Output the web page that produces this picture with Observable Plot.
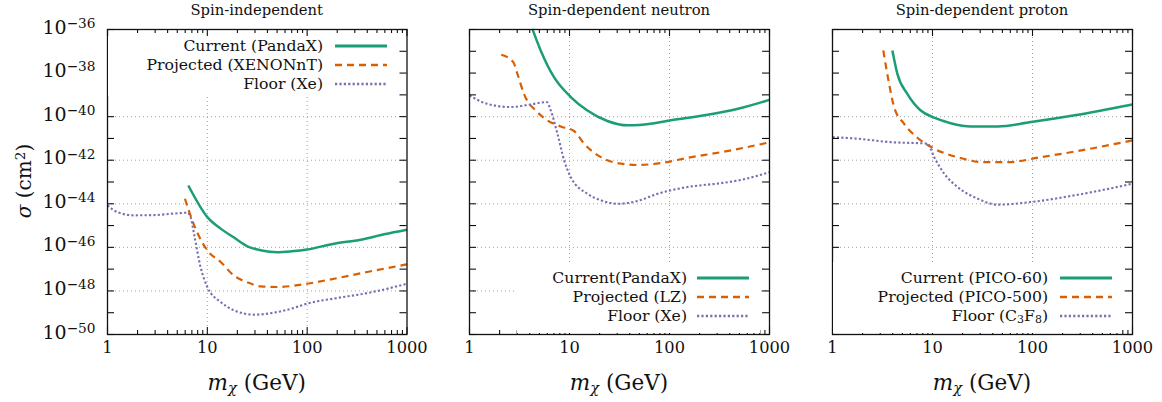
<!DOCTYPE html>
<html><head><meta charset="utf-8">
<script src="https://cdn.jsdelivr.net/npm/d3@7"></script>
<script src="https://cdn.jsdelivr.net/npm/@observablehq/plot@0.6"></script>
<style>
body{margin:0;background:#fff;font-family:"DejaVu Serif",serif;color:#111;}
#wrap{position:relative;width:1162px;height:402px;overflow:hidden;background:#fff;}
.panel{position:absolute;top:0;}
.title{position:absolute;top:10px;font-size:14px;text-align:center;white-space:nowrap;transform:translate(-50%,-50%);line-height:1.2;}
.xlabel{position:absolute;top:383px;font-size:20px;white-space:nowrap;transform:translate(-50%,-50%);line-height:1.2;}
.xlabel sub{font-size:0.68em;vertical-align:-0.22em;line-height:0;}
.ylabel{position:absolute;font-size:20px;white-space:nowrap;line-height:1.2;transform:translate(-50%,-50%) rotate(-90deg);}
.ylabel sup{font-size:0.68em;vertical-align:0.45em;line-height:0;}
.legend{position:absolute;background:#fff;}
.lrow{position:absolute;font-size:15px;white-space:nowrap;line-height:1;transform:translateY(-50%);}
.lrow sub{font-size:0.7em;vertical-align:-0.2em;line-height:0;}
.sw{position:absolute;}
</style>
</head><body><div id="wrap"></div>
<script>
// ---------- data ----------
const massTicks = [1, 10, 100, 1000];
const sigmaLabelExps = [-36, -38, -40, -42, -44, -46, -48, -50];
const sigmaGridExps = [-40, -42, -44, -46, -48];
const massGrid = [10, 100];
const panelTitles = ["Spin-independent", "Spin-dependent neutron", "Spin-dependent proton"];
const seriesNames = ["current", "projected", "floor"];
const legendLabels = [
  ["Current (PandaX)", "Projected (XENONnT)", "Floor (Xe)"],
  ["Current(PandaX)", "Projected (LZ)", "Floor (Xe)"],
  ["Current (PICO-60)", "Projected (PICO-500)", "Floor (C<sub>3</sub>F<sub>8</sub>)"]
];

// Spin-independent (sigma given as log10 exponent)
const siCurrentMass = [6.45, 10, 13.6, 18.5, 25.2, 35, 50, 70, 100, 186, 345, 590, 1000];
const siCurrentExp  = [-43.16, -44.61, -45.14, -45.55, -45.95, -46.14, -46.22, -46.18, -46.1, -45.83, -45.65, -45.4, -45.19];
const siProjMass = [5.97, 7.06, 10, 13.6, 18.5, 25, 34.2, 50, 100, 186, 400, 1000];
const siProjExp  = [-43.77, -44.76, -46.14, -46.67, -47.3, -47.6, -47.79, -47.82, -47.67, -47.44, -47.13, -46.78];
const siFloorMass = [1, 1.25, 1.84, 2.9, 4.6, 6.3, 6.8, 7.35, 8.55, 10, 13.6, 18.5, 29.4, 50, 73.8, 100, 186, 400, 1000];
const siFloorExp  = [-44.07, -44.38, -44.53, -44.52, -44.45, -44.41, -44.61, -45.37, -46.9, -47.82, -48.51, -48.89, -49.09, -48.97, -48.78, -48.58, -48.35, -48.1, -47.67];

// Spin-dependent neutron
const sdnCurrentMass = [4.25, 5.15, 7.0, 10.3, 15.1, 23.9, 38.1, 70.5, 103, 224, 484, 1000];
const sdnCurrentExp  = [-35.97, -36.96, -38.19, -39.1, -39.72, -40.2, -40.4, -40.3, -40.17, -39.94, -39.64, -39.23];
const sdnProjMass = [2.08, 2.74, 3.01, 3.5, 4.77, 6.0, 8.17, 11.1, 14.0, 20.6, 32.6, 48, 82, 152, 330, 1000];
const sdnProjExp  = [-37.16, -37.5, -38.03, -38.95, -39.79, -40.17, -40.45, -40.66, -41.24, -41.86, -42.16, -42.22, -42.13, -41.89, -41.63, -41.18];
const sdnFloorMass = [1.0, 1.5, 2.58, 4.09, 5.93, 6.5, 7.57, 8.84, 10.3, 15.1, 20.6, 30.2, 48, 76, 152, 330, 484, 1000];
const sdnFloorExp  = [-39.03, -39.41, -39.56, -39.44, -39.33, -39.72, -40.78, -42.01, -42.78, -43.54, -43.84, -44.0, -43.87, -43.54, -43.23, -43.05, -42.93, -42.55];

// Spin-dependent proton
const sdpCurrentMass = [3.97, 4.45, 5.6, 7.63, 10.4, 15.2, 24.2, 44.8, 96.5, 265, 1000];
const sdpCurrentExp  = [-36.96, -38.03, -38.95, -39.72, -40.05, -40.3, -40.45, -40.45, -40.25, -39.94, -39.44];
const sdpProjMass = [3.22, 3.68, 4.13, 5.2, 7.07, 10.4, 17.8, 33, 56.5, 121, 307, 1000];
const sdpProjExp  = [-36.96, -38.49, -39.56, -40.33, -40.97, -41.47, -41.86, -42.09, -42.09, -41.86, -41.55, -41.09];
const sdpFloorMass = [1, 1.77, 3.8, 8.9, 10.4, 13.1, 17.8, 28.4, 44.8, 96.5, 265, 1000];
const sdpFloorExp  = [-40.94, -41.01, -41.17, -41.24, -41.86, -42.62, -43.23, -43.77, -44.04, -43.92, -43.61, -43.08];

// ---------- styles ----------
const seriesStyle = {
  current:   {stroke: "#1b9e77", strokeWidth: 2.5, strokeDasharray: null},
  projected: {stroke: "#d95f02", strokeWidth: 2.2, strokeDasharray: "7,5"},
  floor:     {stroke: "#7570b3", strokeWidth: 2.1, strokeDasharray: "2.2,2.2"}
};

const panelData = [
  [[siCurrentMass, siCurrentExp], [siProjMass, siProjExp], [siFloorMass, siFloorExp]],
  [[sdnCurrentMass, sdnCurrentExp], [sdnProjMass, sdnProjExp], [sdnFloorMass, sdnFloorExp]],
  [[sdpCurrentMass, sdpCurrentExp], [sdpProjMass, sdpProjExp], [sdpFloorMass, sdpFloorExp]]
];

const layout = [
  {left: 0,   width: 420, ml: 107, mr: 13.5, showY: true},
  {left: 420, width: 370, ml: 49,  mr: 21,   showY: false},
  {left: 790, width: 372, ml: 42,  mr: 30,   showY: false}
];
const legendLayout = [
  {box: [108, 36, 397, 96],  textRight: 323, swLeft: 335, rows: [46, 65, 84]},
  {box: [517, 262, 760, 333], textRight: 687, swLeft: 697, rows: [278, 297, 316]},
  {box: [833, 262, 1122, 333], textRight: 1048, swLeft: 1060, rows: [278, 297, 316]}
];
// target text widths measured on the reference
const target = {title: 133, legend: 140, xlabel: 98, ylabel: 74, yTick: 53, xTick: 31};
const MT = 29, MB = 68, H = 402;
const FONT = "'DejaVu Serif', serif";

const wrap = document.getElementById("wrap");
const minorMass = [];
for (const d of [1, 10, 100]) for (let k = 2; k <= 9; k++) minorMass.push(d * k);
const decadeTicks = d3.range(-50, -35).map(e => 10 ** e);

function fitHtml(els, base, measureEl, tw) {
  els.forEach(e => e.style.fontSize = base + "px");
  const w = measureEl.offsetWidth;
  const fs = base * tw / w;
  els.forEach(e => e.style.fontSize = fs + "px");
}

const titles = [], xlabels = [], legendRows = [], xTickTexts = [];
let yTickTexts = [];

panelData.forEach((series, i) => {
  const L = layout[i];
  const plotW = L.width - L.ml - L.mr;
  const plotH = H - MT - MB;
  const rows = [];
  series.forEach(([ms, es], j) => ms.forEach((m, k) => rows.push({m, s: 10 ** es[k], series: seriesNames[j]})));
  const lineMarks = seriesNames.map(name => Plot.line(rows.filter(r => r.series === name), {
    x: "m", y: "s", curve: "monotone-x",
    stroke: seriesStyle[name].stroke, strokeWidth: seriesStyle[name].strokeWidth,
    strokeDasharray: seriesStyle[name].strokeDasharray, strokeLinecap: "butt", strokeLinejoin: "round"
  }));
  const tickStyle = {stroke: "#111", strokeWidth: 1.1};
  const marks = [
    Plot.gridX(massGrid, {stroke: "#999", strokeOpacity: 1, strokeWidth: 0.9, strokeDasharray: "1,3"}),
    Plot.gridY(sigmaGridExps.map(e => 10 ** e), {stroke: "#999", strokeOpacity: 1, strokeWidth: 0.9, strokeDasharray: "1,3"}),
    ...lineMarks,
    Plot.tickX(massTicks, {x: d => d, insetTop: plotH - 7, ...tickStyle}),
    Plot.tickX(massTicks, {x: d => d, insetBottom: plotH - 7, ...tickStyle}),
    Plot.tickX(minorMass, {x: d => d, insetTop: plotH - 4, ...tickStyle}),
    Plot.tickX(minorMass, {x: d => d, insetBottom: plotH - 4, ...tickStyle}),
    Plot.tickY(decadeTicks, {y: d => d, insetRight: plotW - 7, ...tickStyle}),
    Plot.tickY(decadeTicks, {y: d => d, insetLeft: plotW - 7, ...tickStyle}),
    Plot.frame({stroke: "#111", strokeWidth: 1.3}),
    Plot.axisX(massTicks, {tickSize: 0, tickPadding: 7, label: null, tickFormat: d => String(d)})
  ];
  if (L.showY) {
    marks.push(Plot.axisY(sigmaLabelExps.map(e => 10 ** e), {
      tickSize: 0, tickPadding: 12, label: null, dy: -2,
      tickFormat: d => "10^" + Math.round(Math.log10(d))
    }));
  }
  const svg = Plot.plot({
    width: L.width, height: H,
    marginLeft: L.ml, marginRight: L.mr, marginTop: MT, marginBottom: MB,
    x: {type: "log", domain: [1, 1000]},
    y: {type: "log", domain: [1e-50, 1e-36], axis: null},
    style: {fontFamily: FONT, fontSize: "19px", background: "transparent", color: "#111", overflow: "visible"},
    marks
  });
  svg.classList.add("panel");
  svg.style.left = L.left + "px";
  wrap.appendChild(svg);

  svg.querySelectorAll('g[aria-label="x-axis tick label"] text').forEach(t => xTickTexts.push(t));
  svg.querySelectorAll('g[aria-label="y-axis tick label"] text').forEach(t => {
    const s = t.textContent;
    if (!s.startsWith("10^")) return;
    const exp = s.slice(3).replace("-", "\u2212");
    t.textContent = "10";
    const ts = document.createElementNS("http://www.w3.org/2000/svg", "tspan");
    ts.setAttribute("dy", "-0.42em");
    ts.setAttribute("font-size", "0.72em");
    ts.textContent = exp;
    t.appendChild(ts);
    yTickTexts.push(t);
  });

  const cx = L.left + L.ml + plotW / 2;
  const title = document.createElement("div");
  title.className = "title";
  title.style.left = cx + "px";
  title.textContent = panelTitles[i];
  wrap.appendChild(title);
  titles.push(title);
  const xl = document.createElement("div");
  xl.className = "xlabel";
  xl.style.left = cx + "px";
  xl.innerHTML = "<i>m</i><sub><i>χ</i></sub> (GeV)";
  wrap.appendChild(xl);
  xlabels.push(xl);

  // legend
  const G = legendLayout[i];
  const box = document.createElement("div");
  box.className = "legend";
  box.style.left = G.box[0] + "px"; box.style.top = G.box[1] + "px";
  box.style.width = (G.box[2] - G.box[0]) + "px"; box.style.height = (G.box[3] - G.box[1]) + "px";
  wrap.appendChild(box);
  seriesNames.forEach((name, j) => {
    const row = document.createElement("div");
    row.className = "lrow";
    row.style.right = (1162 - G.textRight) + "px";
    row.style.top = G.rows[j] + "px";
    row.innerHTML = legendLabels[i][j];
    wrap.appendChild(row);
    legendRows.push(row);
    const st = seriesStyle[name];
    const sw = d3.create("svg").attr("class", "sw").attr("width", 54).attr("height", 8)
      .style("left", G.swLeft + "px").style("top", (G.rows[j] - 4) + "px");
    sw.append("line").attr("x1", 0).attr("x2", 52).attr("y1", 4).attr("y2", 4)
      .attr("stroke", st.stroke).attr("stroke-width", st.strokeWidth + 0.4)
      .attr("stroke-dasharray", st.strokeDasharray);
    wrap.appendChild(sw.node());
  });
});

const yl = document.createElement("div");
yl.className = "ylabel";
yl.style.left = "24px";
yl.style.top = "181px";
yl.innerHTML = "<i>σ</i> (cm<sup>2</sup>)";
wrap.appendChild(yl);

// fit font sizes to the widths measured on the reference
fitHtml(titles, 14, titles[0], target.title);
fitHtml(legendRows, 15, legendRows[0], target.legend);
fitHtml(xlabels, 20, xlabels[0], target.xlabel);
fitHtml([yl], 20, yl, target.ylabel);
function fitSvg(texts, tw, measure) {
  texts.forEach(t => t.setAttribute("font-size", 19));
  const w = measure.getBBox().width;
  const fs = 19 * tw / w;
  texts.forEach(t => t.setAttribute("font-size", fs));
}
fitSvg(yTickTexts, target.yTick, yTickTexts[0]);
fitSvg(xTickTexts, target.xTick, xTickTexts[2]);
</script>
</body></html>
